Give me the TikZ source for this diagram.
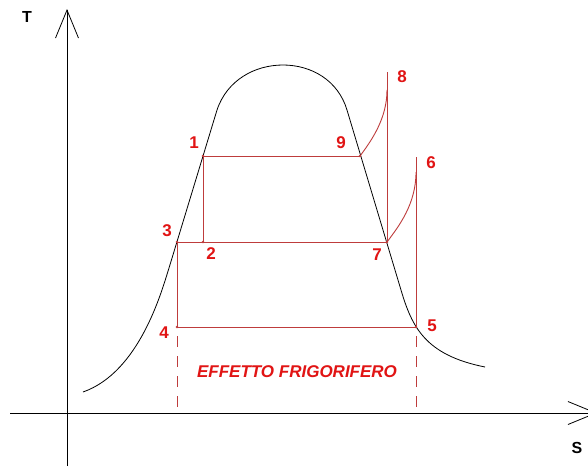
\documentclass[tikz,border=0pt]{standalone}
\usepackage{fontspec}
\setmainfont{Liberation Sans}
\usetikzlibrary{arrows.meta}
\definecolor{lab}{RGB}{225,20,20}
\definecolor{ln}{RGB}{190,60,60}
\begin{document}
\begin{tikzpicture}[x=1pt,y=-1pt,
  axis/.style={black,line width=0.8pt,-{Straight Barb[length=28pt,width=23pt,line width=0.8pt]}},
  curve/.style={black,line width=0.8pt},
  cyc/.style={ln,line width=0.9pt},
  proj/.style={ln,line width=0.9pt,dash pattern=on 11pt off 9pt,dash phase=-9pt},
  lbl/.style={text=lab,font=\fontsize{17}{19}\selectfont\bfseries,inner sep=0pt,anchor=center},
  axlbl/.style={text=black,font=\fontsize{16}{18}\selectfont\bfseries,inner sep=0pt,anchor=center}
]
\useasboundingbox (0,0) rectangle (588,472);
\clip (0,0) rectangle (588,472);
\fill[white] (0,0) rectangle (588,472);

% axes
\coordinate (Ybot) at (67,466);
\coordinate (Ytop) at (67,9);
\coordinate (Xl) at (10,413);
\coordinate (Xr) at (597,413);
\draw[axis] (Ybot) -- (Ytop);
\draw[axis] (Xl) -- (Xr);
\node[axlbl] (T) at (27,17) {T};
\node[axlbl] (S) at (577,448) {S};

% saturation curve
\draw[curve] (83,392) .. controls (140,372) and (162,290) .. (169,268)
  -- (217,110) .. controls (227,80) and (255,65) .. (283,65)
  .. controls (311,65) and (338,80) .. (347,110)
  -- (401,290) .. controls (412,327) and (425,355) .. (485,367);

% cycle points
\coordinate (P1) at (203,156);
\coordinate (P2) at (203,242);
\coordinate (P3) at (177,242);
\coordinate (P4) at (177,327);
\coordinate (P5) at (416,327);
\coordinate (P6) at (416,157);
\coordinate (P7) at (387,242);
\coordinate (P8) at (387,72);
\coordinate (P9) at (360,156);
\coordinate (C8) at (387,90);
\coordinate (C6) at (416,172);
\coordinate (B4) at (177,413);
\coordinate (B5) at (416,413);

\draw[cyc] (P1) -- (P9);
\draw[cyc] (P3) -- (P7);
\draw[cyc] (P4) -- (P5);
\draw[cyc] (P1) -- (P2);
\draw[cyc] (P3) -- (P4);
\draw[cyc] (P7) -- (P8);
\draw[cyc] (P5) -- (P6);
\draw[cyc] (P9) .. controls (372,140) and (387,118) .. (C8);
\draw[cyc] (P7) .. controls (399,226) and (416,204) .. (C6);
\draw[proj] (P4) -- (B4);
\draw[proj] (P5) -- (B5);

\foreach \p in {P1,P2,P3,P4,P5,P7,P9} \fill[ln] (\p) circle (1.4);

% labels
\node[lbl] (L1) at (194,143) {1};
\node[lbl] (L2) at (211,254) {2};
\node[lbl] (L3) at (167,231) {3};
\node[lbl] (L4) at (164,333) {4};
\node[lbl] (L5) at (432,326) {5};
\node[lbl] (L6) at (431,163) {6};
\node[lbl] (L7) at (377,255) {7};
\node[lbl] (L8) at (402,77) {8};
\node[lbl] (L9) at (341,143) {9};
\node[lbl,font=\fontsize{17}{19}\selectfont\bfseries\itshape] (eff) at (297,372) {EFFETTO FRIGORIFERO};
\end{tikzpicture}
\end{document}
